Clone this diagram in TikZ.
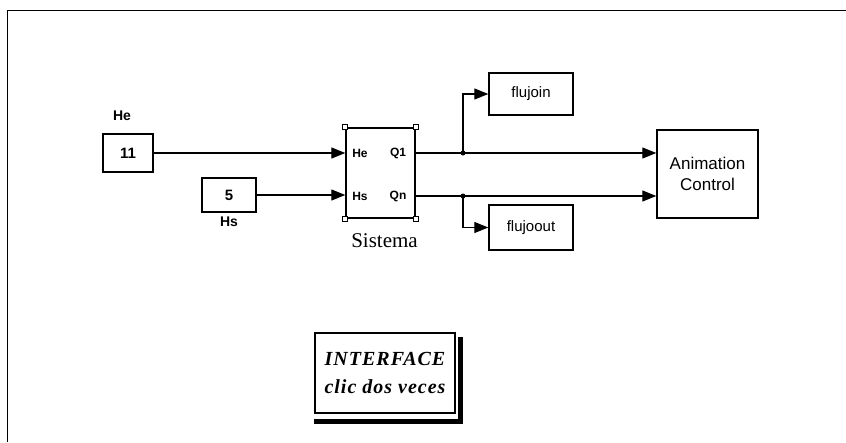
\documentclass[tikz,border=0pt]{standalone}
\usepackage{fontspec}
\setmainfont{Liberation Serif}
\setsansfont{Liberation Sans}
\usepackage{tikz}
\usetikzlibrary{arrows.meta,calc,positioning}
\tikzset{
  blk/.style={draw,line width=1.4pt,inner sep=0pt,align=center,font=\sffamily\fontsize{15}{18}\selectfont},
  sig/.style={line width=1.2pt,-{Triangle[length=14pt,width=11pt]}},
  lbl/.style={inner sep=0pt,font=\sffamily\bfseries\fontsize{14}{16}\selectfont},
  port/.style={inner sep=0pt,font=\sffamily\bfseries\fontsize{12}{14}\selectfont},
}

\begin{document}
\begin{tikzpicture}[x=1pt,y=-1pt]
  \useasboundingbox (0,0) rectangle (846,442);
  % Window frame
  \draw[line width=1.5pt] (7.5,442) -- (7.5,10.5) -- (846,10.5);
  % Constant blocks
  \node[blk,minimum width=50pt,minimum height=38pt,font=\sffamily\bfseries\fontsize{15}{17}\selectfont] (const11) at (128,153) {11};
  \node[lbl] (lblHe) at (122,116) {He};
  \node[blk,minimum width=54pt,minimum height=34pt,font=\sffamily\bfseries\fontsize{15}{17}\selectfont] (const5) at (229,195) {5};
  \node[lbl] (lblHs) at (229,222) {Hs};
  % Subsystem
  \node[blk,minimum width=69pt,minimum height=90pt] (sistema) at (380.5,173) {};
  \foreach \c in {north west,north east,south west,south east}
    \draw[line width=1pt,fill=white] ([shift={(-2.5pt,-2.5pt)}]sistema.\c) rectangle ++(5pt,5pt);
  \node[port] (pHe) at (360,153) {He};
  \node[port] (pHs) at (360,196) {Hs};
  \node[port] (pQ1) at (398,153) {Q1};
  \node[port] (pQn) at (398,196) {Qn};
  \node[inner sep=0pt,font=\fontsize{21}{24}\selectfont] (lblSis) at (384.5,241) {Sistema};
  % Sinks
  \node[blk,minimum width=84pt,minimum height=42pt] (flujoin) at (531,94) {flujoin};
  \node[blk,minimum width=84pt,minimum height=45pt] (flujoout) at (531,227.5) {flujoout};
  \node[blk,minimum width=101pt,minimum height=88pt,font=\sffamily\fontsize{17}{21}\selectfont] (anim) at (707.5,174) {Animation\\Control};
  % Branch points
  \coordinate (b1) at (463,153);
  \coordinate (b2) at (463,196);
  % Signals
  \draw[sig] (const11.east) -- (const11.east -| sistema.west);
  \draw[sig] (const5.east) -- (const5.east -| sistema.west);
  \draw[sig] (sistema.east |- b1) -- (b1 -| anim.west);
  \draw[sig] (sistema.east |- b2) -- (b2 -| anim.west);
  \draw[sig] (b1) |- (flujoin.west);
  \draw[sig] (b2) |- (flujoout.west);
  \fill (b1) circle (2.5pt);
  \fill (b2) circle (2.5pt);
  % Interface button with shadow
  \node[draw,line width=1.4pt,minimum width=140pt,minimum height=80pt,align=center,
        font=\fontsize{20}{28}\selectfont\bfseries\itshape\addfontfeature{LetterSpace=5}] (interface) at (385,373)
        {INTERFACE\\clic dos veces};
  \fill ([xshift=2pt,yshift=-5pt]interface.north east) rectangle ([xshift=7pt,yshift=-10pt]interface.south east);
  \fill ([yshift=-5pt]interface.south west) rectangle ([xshift=7pt,yshift=-10pt]interface.south east);
\end{tikzpicture}
\end{document}
